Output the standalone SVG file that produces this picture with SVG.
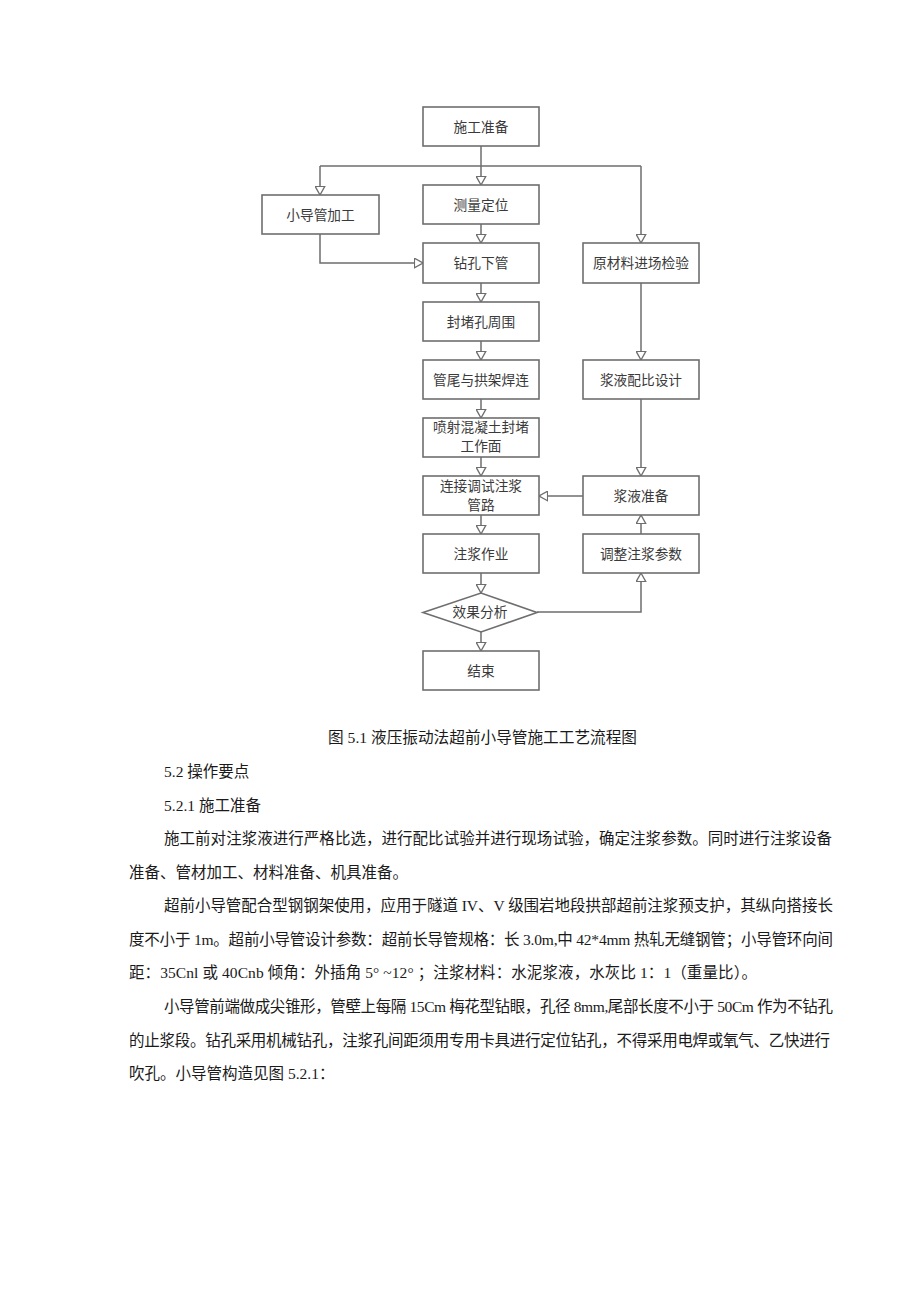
<svg xmlns="http://www.w3.org/2000/svg" width="920" height="1301" viewBox="0 0 920 1301">
<defs>
<style>
.box{fill:#fff;stroke:#6e6e6e;stroke-width:1.6}
.lbl{font-family:"Liberation Serif","Noto Sans CJK SC",serif;font-size:13.7px;fill:#3a3a3a;text-anchor:middle}
.ln{fill:none;stroke:#6e6e6e;stroke-width:1.5}
.tx{font-family:"Liberation Serif","Noto Sans CJK SC",serif;font-size:15.5px;fill:#1a1a1a}
</style>
<marker id="ah" viewBox="0 0 10 11" refX="9.3" refY="5.5" markerWidth="10" markerHeight="11" markerUnits="userSpaceOnUse" orient="auto">
<path d="M0.7,0.7 L9.3,5.5 L0.7,10.3 Z" fill="#fff" stroke="#6e6e6e" stroke-width="1.3"/>
</marker>
</defs>
<rect width="920" height="1301" fill="#fff"/>

<g id="connectors">
<path class="ln" d="M481,146 V185" marker-end="url(#ah)"/>
<path class="ln" d="M320,166 H641"/>
<path class="ln" d="M320,166 V195" marker-end="url(#ah)"/>
<path class="ln" d="M641,166 V243" marker-end="url(#ah)"/>
<path class="ln" d="M481,224 V243" marker-end="url(#ah)"/>
<path class="ln" d="M320,234 V263 H423" marker-end="url(#ah)"/>
<path class="ln" d="M481,283 V302" marker-end="url(#ah)"/>
<path class="ln" d="M481,341 V360" marker-end="url(#ah)"/>
<path class="ln" d="M481,399 V418" marker-end="url(#ah)"/>
<path class="ln" d="M481,457 V476" marker-end="url(#ah)"/>
<path class="ln" d="M481,515 V534" marker-end="url(#ah)"/>
<path class="ln" d="M481,573 V593" marker-end="url(#ah)"/>
<path class="ln" d="M481,632 V651" marker-end="url(#ah)"/>
<path class="ln" d="M641,283 V360" marker-end="url(#ah)"/>
<path class="ln" d="M641,399 V476" marker-end="url(#ah)"/>
<path class="ln" d="M583,496 H539" marker-end="url(#ah)"/>
<path class="ln" d="M641,534 V515" marker-end="url(#ah)"/>
<path class="ln" d="M537,612 H641 V573" marker-end="url(#ah)"/>
</g>

<g id="n1"><rect class="box" x="423" y="107" width="116" height="39"/><text class="lbl" x="481" y="131.5">施工准备</text></g>
<g id="n2"><rect class="box" x="262" y="195" width="117" height="39"/><text class="lbl" x="320.5" y="219.5">小导管加工</text></g>
<g id="n3"><rect class="box" x="423" y="185" width="116" height="39"/><text class="lbl" x="481" y="209.5">测量定位</text></g>
<g id="n4"><rect class="box" x="423" y="243" width="116" height="40"/><text class="lbl" x="481" y="268">钻孔下管</text></g>
<g id="n5"><rect class="box" x="583" y="243" width="116" height="40"/><text class="lbl" x="641" y="268">原材料进场检验</text></g>
<g id="n6"><rect class="box" x="423" y="302" width="116" height="39"/><text class="lbl" x="481" y="326.5">封堵孔周围</text></g>
<g id="n7"><rect class="box" x="423" y="360" width="116" height="39"/><text class="lbl" x="481" y="384.5">管尾与拱架焊连</text></g>
<g id="n8"><rect class="box" x="583" y="360" width="116" height="39"/><text class="lbl" x="641" y="384.5">浆液配比设计</text></g>
<g id="n9"><rect class="box" x="423" y="418" width="116" height="39"/><text class="lbl" x="481" y="432">喷射混凝土封堵</text><text class="lbl" x="481" y="451">工作面</text></g>
<g id="n10"><rect class="box" x="423" y="476" width="116" height="39"/><text class="lbl" x="481" y="490.5">连接调试注浆</text><text class="lbl" x="481" y="509.5">管路</text></g>
<g id="n11"><rect class="box" x="583" y="476" width="116" height="39"/><text class="lbl" x="641" y="500.5">浆液准备</text></g>
<g id="n12"><rect class="box" x="423" y="534" width="116" height="39"/><text class="lbl" x="481" y="558.5">注浆作业</text></g>
<g id="n13"><rect class="box" x="583" y="534" width="116" height="39"/><text class="lbl" x="641" y="558.5">调整注浆参数</text></g>
<g id="n14"><polygon class="box" points="423,612.5 481,593 537,612.5 481,632"/><text class="lbl" x="480" y="617">效果分析</text></g>
<g id="n15"><rect class="box" x="423" y="651" width="116" height="39"/><text class="lbl" x="481" y="675.5">结束</text></g>

<g id="body">
<text class="tx" x="328" y="742.5" textLength="309" lengthAdjust="spacingAndGlyphs">图 5.1 液压振动法超前小导管施工工艺流程图</text>
<text class="tx" x="164" y="776.5">5.2 操作要点</text>
<text class="tx" x="164" y="810.5">5.2.1 施工准备</text>
<text class="tx" x="164" y="843.5" textLength="668" lengthAdjust="spacing">施工前对注浆液进行严格比选，进行配比试验并进行现场试验，确定注浆参数。同时进行注浆设备</text>
<text class="tx" x="129" y="877.5">准备、管材加工、材料准备、机具准备。</text>
<text class="tx" x="164" y="911" textLength="669" lengthAdjust="spacing">超前小导管配合型钢钢架使用，应用于隧道 IV、V 级围岩地段拱部超前注浆预支护，其纵向搭接长</text>
<text class="tx" x="129" y="944.5" textLength="704" lengthAdjust="spacing">度不小于 1m。超前小导管设计参数：超前长导管规格：长 3.0m,中 42*4mm 热轧无缝钢管；小导管环向间</text>
<text class="tx" x="129" y="978" textLength="628" lengthAdjust="spacing">距：35Cnl 或 40Cnb 倾角：外插角 5° ~12° ；注浆材料：水泥浆液，水灰比 1：1（重量比）。</text>
<text class="tx" x="164" y="1011.5" textLength="669" lengthAdjust="spacing">小导管前端做成尖锥形，管壁上每隔 15Cm 梅花型钻眼，孔径 8mm,尾部长度不小于 50Cm 作为不钻孔</text>
<text class="tx" x="129" y="1045.5" textLength="701" lengthAdjust="spacing">的止浆段。钻孔采用机械钻孔，注浆孔间距须用专用卡具进行定位钻孔，不得采用电焊或氧气、乙快进行</text>
<text class="tx" x="129" y="1079">吹孔。小导管构造见图 5.2.1：</text>
</g>
</svg>
